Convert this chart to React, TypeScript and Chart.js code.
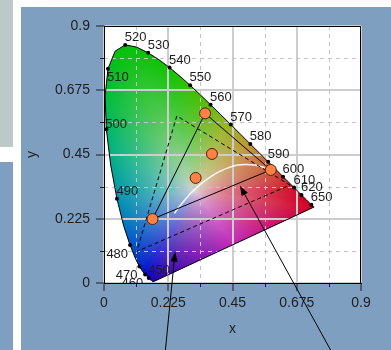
import React, { useEffect, useRef } from 'react';
import { Chart, registerables } from 'chart.js';

Chart.register(...registerables);

// ---- data ----
const LOCUS_WL = [380, 385, 390, 395, 400, 405, 410, 415, 420, 425, 430, 435, 440, 445, 450, 455, 460, 465, 470, 475, 480, 485, 490, 495, 500, 505, 510, 515, 520, 525, 530, 535, 540, 545, 550, 555, 560, 565, 570, 575, 580, 585, 590, 595, 600, 605, 610, 615, 620, 625, 630, 635, 640, 645, 650, 655, 660, 665, 670, 680, 700];
const LOCUS_X = [0.1741, 0.1740, 0.1738, 0.1736, 0.1733, 0.1730, 0.1726, 0.1721, 0.1714, 0.1703, 0.1689, 0.1669, 0.1644, 0.1611, 0.1566, 0.1510, 0.1440, 0.1355, 0.1241, 0.1096, 0.0913, 0.0687, 0.0454, 0.0235, 0.0082, 0.0039, 0.0139, 0.0389, 0.0743, 0.1142, 0.1547, 0.1929, 0.2296, 0.2658, 0.3016, 0.3373, 0.3731, 0.4087, 0.4441, 0.4788, 0.5125, 0.5448, 0.5752, 0.6029, 0.6270, 0.6482, 0.6658, 0.6801, 0.6915, 0.7006, 0.7079, 0.7140, 0.7190, 0.7230, 0.7260, 0.7283, 0.7300, 0.7311, 0.7320, 0.7334, 0.7347];
const LOCUS_Y = [0.0050, 0.0050, 0.0049, 0.0049, 0.0048, 0.0048, 0.0048, 0.0048, 0.0051, 0.0058, 0.0069, 0.0086, 0.0109, 0.0138, 0.0177, 0.0227, 0.0297, 0.0399, 0.0578, 0.0868, 0.1327, 0.2007, 0.2950, 0.4127, 0.5384, 0.6548, 0.7502, 0.8120, 0.8338, 0.8262, 0.8059, 0.7816, 0.7543, 0.7243, 0.6923, 0.6589, 0.6245, 0.5896, 0.5547, 0.5202, 0.4866, 0.4544, 0.4242, 0.3965, 0.3725, 0.3514, 0.3340, 0.3197, 0.3083, 0.2993, 0.2920, 0.2859, 0.2809, 0.2770, 0.2740, 0.2717, 0.2700, 0.2689, 0.2680, 0.2666, 0.2653];

const MARKED_WL = [450, 460, 470, 480, 490, 500, 510, 520, 530, 540, 550, 560, 570, 580, 590, 600, 610, 620, 650];

const PLANCK_X = [0.5736, 0.5530, 0.5267, 0.4770, 0.4369, 0.4053, 0.3805, 0.3451, 0.3221, 0.3064, 0.2952, 0.2807, 0.2637, 0.2521, 0.2465];
const PLANCK_Y = [0.3996, 0.4070, 0.4133, 0.4137, 0.4041, 0.3907, 0.3768, 0.3516, 0.3318, 0.3166, 0.3048, 0.2884, 0.2674, 0.2516, 0.2440];

const GAMUT_SOLID_X = [0.170, 0.354, 0.584];
const GAMUT_SOLID_Y = [0.224, 0.594, 0.396];
const GAMUT_DASHED_X = [0.255, 0.1145, 0.651];
const GAMUT_DASHED_Y = [0.585, 0.110, 0.343];

const SAMPLE_X = [0.170, 0.354, 0.584, 0.378, 0.321];
const SAMPLE_Y = [0.224, 0.594, 0.396, 0.452, 0.368];

const ARROW_TAIL_X = [0.2136, 0.802];
const ARROW_TAIL_Y = [-0.25, -0.25];
const ARROW_TIP_X = [0.249, 0.476];
const ARROW_TIP_Y = [0.110, 0.341];

const TICK_LABELS = ['0', '0.225', '0.45', '0.675', '0.9'];
const AXIS_MIN = 0;
const AXIS_MAX = 0.9;

// ---- styles ----
const FONT = 'Liberation Sans, Arial, sans-serif';
const PANEL_BG = '#7f9fc1';
const MAJOR_GRID = '#cdcdcd';
const MINOR_GRID = '#c4c4c4';
const TEXT = '#1e1e1e';
const LABEL_ANCHOR: Record<number, string> = { 460: 'sw', 470: 'sw', 480: 'sw', 500: 'e', 510: 'se' };

// colour ramp of the filled diagram (style)
const FILL_CENTER = [0.32, 0.32];
const FILL_CENTER_RGB = [226, 214, 222];
const EDGE_WL = [380, 450, 465, 475, 482, 490, 497, 505, 515, 540, 555, 568, 580, 590, 600, 612, 630, 700];
const EDGE_RGB = [
  [30, 0, 170], [20, 0, 205], [0, 20, 205], [0, 55, 205], [0, 95, 200], [0, 150, 175], [0, 178, 130], [0, 188, 60],
  [0, 192, 10], [15, 195, 0], [70, 190, 0], [150, 180, 30], [190, 150, 50], [200, 105, 55], [205, 60, 50], [208, 15, 45], [210, 0, 35], [210, 0, 35],
];
const PURPLE_RGB = [[210, 0, 35], [195, 40, 185], [30, 0, 170]];
const FILL_EXP = 0.65;

function lerp3(a: number[], b: number[], t: number) {
  return [a[0] + (b[0] - a[0]) * t, a[1] + (b[1] - a[1]) * t, a[2] + (b[2] - a[2]) * t];
}

function edgeColorForWl(wl: number) {
  for (let i = 0; i < EDGE_WL.length - 1; i++) {
    if (wl <= EDGE_WL[i + 1]) return lerp3(EDGE_RGB[i], EDGE_RGB[i + 1], (wl - EDGE_WL[i]) / (EDGE_WL[i + 1] - EDGE_WL[i]));
  }
  return EDGE_RGB[EDGE_RGB.length - 1];
}

function fillColor(x: number, y: number) {
  const cx = FILL_CENTER[0], cy = FILL_CENTER[1];
  const dx = x - cx, dy = y - cy;
  const n = LOCUS_X.length;
  let best = Infinity, col: number[] | null = null;
  for (let i = 0; i < n; i++) {
    const j = (i + 1) % n;
    const ax = LOCUS_X[i], ay = LOCUS_Y[i];
    const ex = LOCUS_X[j] - ax, ey = LOCUS_Y[j] - ay;
    const den = dx * ey - dy * ex;
    if (Math.abs(den) < 1e-12) continue;
    const qx = ax - cx, qy = ay - cy;
    const s = (qx * ey - qy * ex) / den;
    const u = (qx * dy - qy * dx) / den;
    if (s > 0 && u >= -1e-9 && u <= 1 + 1e-9 && s < best) {
      best = s;
      if (j === 0) {
        col = u < 0.5 ? lerp3(PURPLE_RGB[0], PURPLE_RGB[1], u * 2) : lerp3(PURPLE_RGB[1], PURPLE_RGB[2], (u - 0.5) * 2);
      } else {
        col = edgeColorForWl(LOCUS_WL[i] + u * (LOCUS_WL[j] - LOCUS_WL[i]));
      }
    }
  }
  if (!col) return FILL_CENTER_RGB;
  const t = Math.min(1, Math.pow(1 / best, FILL_EXP));
  return lerp3(FILL_CENTER_RGB, col, t);
}

function pts(xs: number[], ys: number[], close = false) {
  const a = xs.map((x, i) => ({ x, y: ys[i] }));
  if (close) a.push({ x: xs[0], y: ys[0] });
  return a;
}

const gamutPlugin = {
  id: 'gamutFill',
  beforeDraw(chart: any) {
    const { ctx, chartArea: ca } = chart;
    const xs = chart.scales.x, ys = chart.scales.y;
    const w = chart.width, h = chart.height;
    ctx.save();
    ctx.fillStyle = PANEL_BG;
    ctx.fillRect(0, 0, w, h);
    ctx.fillStyle = '#ffffff';
    ctx.fillRect(ca.left, ca.top, ca.right - ca.left, ca.bottom - ca.top);
    const off = document.createElement('canvas');
    off.width = w; off.height = h;
    const octx = off.getContext('2d')!;
    const img = octx.createImageData(w, h);
    for (let py = Math.floor(ca.top); py < Math.ceil(ca.bottom); py++) {
      const yv = ys.getValueForPixel(py + 0.5);
      for (let px = Math.floor(ca.left); px < Math.ceil(ca.right); px++) {
        const xv = xs.getValueForPixel(px + 0.5);
        if (xv > 0.76 || yv > 0.86) continue;
        const c = fillColor(xv, yv);
        const i = (py * w + px) * 4;
        img.data[i] = c[0]; img.data[i + 1] = c[1]; img.data[i + 2] = c[2]; img.data[i + 3] = 255;
      }
    }
    octx.putImageData(img, 0, 0);
    ctx.beginPath();
    LOCUS_X.forEach((x, i) => {
      const px = xs.getPixelForValue(x), py = ys.getPixelForValue(LOCUS_Y[i]);
      if (i === 0) ctx.moveTo(px, py); else ctx.lineTo(px, py);
    });
    ctx.closePath();
    ctx.clip();
    ctx.drawImage(off, 0, 0);
    ctx.restore();
  },
  beforeDatasetsDraw(chart: any) {
    const { ctx, chartArea: ca } = chart;
    const xs = chart.scales.x, ys = chart.scales.y;
    ctx.save();
    ctx.lineWidth = 1;
    ctx.strokeStyle = MINOR_GRID;
    ctx.setLineDash([4, 4]);
    xs.ticks.forEach((t: any, i: number) => {
      if (i % 2 === 1) {
        const p = Math.round(xs.getPixelForValue(t.value)) + 0.5;
        ctx.beginPath(); ctx.moveTo(p, ca.top); ctx.lineTo(p, ca.bottom); ctx.stroke();
      }
    });
    ys.ticks.forEach((t: any, i: number) => {
      if (i % 2 === 1) {
        const p = Math.round(ys.getPixelForValue(t.value)) + 0.5;
        ctx.beginPath(); ctx.moveTo(ca.left, p); ctx.lineTo(ca.right, p); ctx.stroke();
      }
    });
    ctx.setLineDash([]);
    ctx.strokeStyle = TEXT;
    xs.ticks.forEach((t: any, i: number) => {
      if (i % 2 === 1) {
        const p = Math.round(xs.getPixelForValue(t.value)) + 0.5;
        ctx.beginPath(); ctx.moveTo(p, ca.bottom); ctx.lineTo(p, ca.bottom + 4); ctx.stroke();
      }
    });
    ys.ticks.forEach((t: any, i: number) => {
      if (i % 2 === 1) {
        const p = Math.round(ys.getPixelForValue(t.value)) + 0.5;
        ctx.beginPath(); ctx.moveTo(ca.left - 4, p); ctx.lineTo(ca.left, p); ctx.stroke();
      }
    });
    ctx.restore();
  },
  afterDatasetsDraw(chart: any) {
    const { ctx, chartArea: ca } = chart;
    const xs = chart.scales.x, ys = chart.scales.y;
    ctx.save();
    ctx.beginPath();
    ctx.rect(ca.left, ca.top, ca.right - ca.left, ca.bottom - ca.top);
    ctx.clip();
    ctx.font = '13px ' + FONT;
    ctx.fillStyle = TEXT;
    MARKED_WL.forEach((wl) => {
      const i = LOCUS_WL.indexOf(wl);
      const px = xs.getPixelForValue(LOCUS_X[i]);
      const py = ys.getPixelForValue(LOCUS_Y[i]);
      const a = LABEL_ANCHOR[wl] || 'ne';
      ctx.textBaseline = 'alphabetic';
      if (a === 'ne') { ctx.textAlign = 'left'; ctx.fillText(String(wl), px - 0.5, py - 4); }
      else if (a === 'e') { ctx.textAlign = 'left'; ctx.fillText(String(wl), px - 1, py - 1); }
      else if (a === 'se') { ctx.textAlign = 'left'; ctx.fillText(String(wl), px - 1, py + 12); }
      else { ctx.textAlign = 'right'; ctx.fillText(String(wl), px - 2, py + 12.5); }
    });
    ctx.restore();
    ctx.save();
    ctx.strokeStyle = '#000';
    ctx.lineWidth = 1;
    ctx.strokeRect(Math.round(ca.left) + 0.5, Math.round(ca.top) + 0.5, Math.round(ca.right - ca.left) - 1, Math.round(ca.bottom - ca.top));
    ctx.restore();
  },
  afterDraw(chart: any) {
    const { ctx } = chart;
    const xs = chart.scales.x, ys = chart.scales.y;
    ctx.save();
    ctx.strokeStyle = '#000';
    ctx.fillStyle = '#000';
    ctx.lineWidth = 1;
    ARROW_TIP_X.forEach((tx, i) => {
      const x1 = xs.getPixelForValue(ARROW_TAIL_X[i]), y1 = ys.getPixelForValue(ARROW_TAIL_Y[i]);
      const x2 = xs.getPixelForValue(tx), y2 = ys.getPixelForValue(ARROW_TIP_Y[i]);
      const ang = Math.atan2(y2 - y1, x2 - x1);
      const L = 10, W = 3.5;
      ctx.beginPath(); ctx.moveTo(x1, y1); ctx.lineTo(x2 - Math.cos(ang) * L * 0.8, y2 - Math.sin(ang) * L * 0.8); ctx.stroke();
      ctx.beginPath();
      ctx.moveTo(x2, y2);
      ctx.lineTo(x2 - Math.cos(ang) * L - Math.sin(ang) * W, y2 - Math.sin(ang) * L + Math.cos(ang) * W);
      ctx.lineTo(x2 - Math.cos(ang) * L + Math.sin(ang) * W, y2 - Math.sin(ang) * L - Math.cos(ang) * W);
      ctx.closePath(); ctx.fill();
    });
    ctx.restore();
  },
};

function axis(pos: 'x' | 'y', title: string) {
  const isX = pos === 'x';
  return {
    type: 'linear' as const,
    position: isX ? 'bottom' : 'left',
    min: AXIS_MIN,
    max: AXIS_MAX,
    afterFit: (s: any) => { if (isX) s.height = 67; else s.width = 83; },
    ticks: {
      count: 9,
      autoSkip: false,
      maxRotation: 0,
      padding: isX ? 4 : 6,
      color: TEXT,
      font: { family: FONT, size: 14 },
      callback: (_v: any, i: number) => (i % 2 === 0 ? TICK_LABELS[i / 2] : ''),
    },
    grid: {
      color: (c: any) => (c.index % 2 === 0 ? MAJOR_GRID : 'rgba(0,0,0,0)'),
      lineWidth: 2,
      tickColor: (c: any) => (c.index % 2 === 0 ? TEXT : 'rgba(0,0,0,0)'),
      tickLength: 8,
      tickWidth: 1,
    },
    border: { display: true, color: '#000', width: 1 },
    title: {
      display: true,
      text: title,
      color: TEXT,
      font: { family: FONT, size: 14 },
      padding: isX ? { top: 0, bottom: 12 } : { top: 3, bottom: 0 },
    },
  };
}

export default function App() {
  const ref = useRef<HTMLCanvasElement>(null);
  useEffect(() => {
    const chart = new Chart(ref.current!, {
      type: 'scatter',
      data: {
        datasets: [
          {
            label: 'samples', data: pts(SAMPLE_X, SAMPLE_Y), order: 0,
            pointRadius: 5.5, backgroundColor: '#ff8244', borderColor: '#4a2410', borderWidth: 1, showLine: false,
          },
          {
            label: 'gamut', data: pts(GAMUT_SOLID_X, GAMUT_SOLID_Y, true), order: 1,
            showLine: true, borderColor: '#000', borderWidth: 1, pointRadius: 0,
          },
          {
            label: 'gamut2', data: pts(GAMUT_DASHED_X, GAMUT_DASHED_Y, true), order: 2,
            showLine: true, borderColor: '#000', borderWidth: 1, borderDash: [4, 3], pointRadius: 0,
          },
          {
            label: 'planck', data: pts(PLANCK_X, PLANCK_Y), order: 3,
            showLine: true, borderColor: 'rgba(255,255,255,0.9)', borderWidth: 1.5, pointRadius: 0, tension: 0.4,
          },
          {
            label: 'markers',
            data: MARKED_WL.map((wl) => { const i = LOCUS_WL.indexOf(wl); return { x: LOCUS_X[i], y: LOCUS_Y[i] }; }),
            order: 4, showLine: false, pointRadius: 2, backgroundColor: '#000', borderColor: '#000', borderWidth: 0,
          },
          {
            label: 'locus', data: pts(LOCUS_X, LOCUS_Y, true), order: 5,
            showLine: true, borderColor: '#000', borderWidth: 1, pointRadius: 0,
          },
        ],
      },
      options: {
        responsive: false,
        animation: false,
        devicePixelRatio: 1,
        events: [],
        layout: { padding: { left: 0, top: 19, right: 30, bottom: 0 } },
        plugins: { legend: { display: false }, tooltip: { enabled: false } },
        scales: { x: axis('x', 'x') as any, y: axis('y', 'y') as any },
      },
      plugins: [gamutPlugin],
    });
    return () => chart.destroy();
  }, []);
  return (
    <div style={{ position: 'absolute', left: 0, top: 0, width: 391, height: 350, background: '#fff', overflow: 'hidden' }}>
      <div style={{ position: 'absolute', left: 0, top: 0, width: 13, height: 147, background: '#bdc8c8' }} />
      <div style={{ position: 'absolute', left: 0, top: 162, width: 13, height: 188, background: PANEL_BG }} />
      <div style={{ position: 'absolute', left: 21, top: 7, width: 370, height: 343 }}>
        <canvas ref={ref} width={370} height={343} style={{ display: 'block', width: 370, height: 343 }} />
      </div>
    </div>
  );
}
